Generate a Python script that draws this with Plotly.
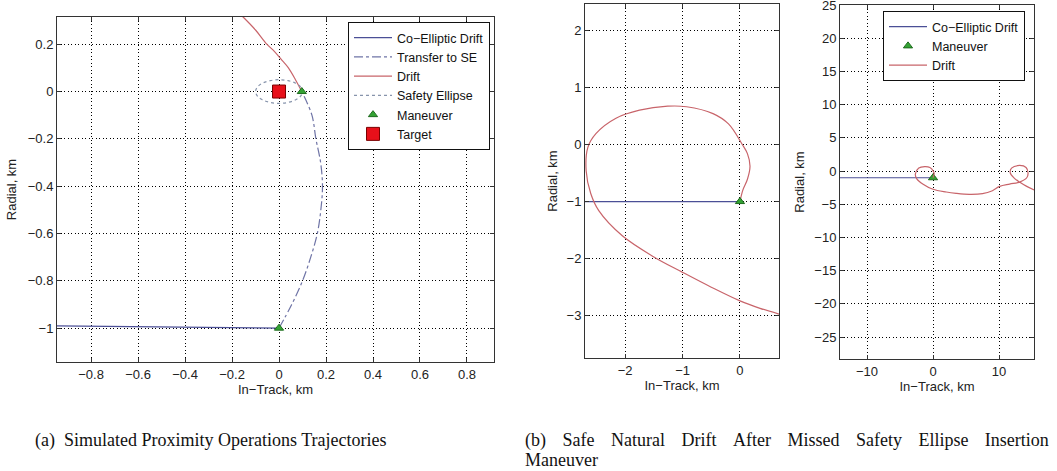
import plotly.graph_objects as go

W, H = 1057, 471

# ---------------- data: (a) proximity operations ----------------
a_coell_x = [-0.95, -0.7, -0.4, -0.1, 0.0]
a_coell_y = [-0.99, -0.992, -0.995, -0.999, -1.0]

a_transfer_x = [0.0, 0.054, 0.10, 0.135, 0.163, 0.178, 0.185, 0.177, 0.157, 0.14, 0.097]
a_transfer_y = [-1.0, -0.9, -0.8, -0.7, -0.6, -0.5, -0.4, -0.3, -0.2, -0.1, 0.0]

a_drift_x = [0.097, 0.07, 0.04, 0.011, -0.02, -0.052, -0.1, -0.153, -0.2]
a_drift_y = [0.0, 0.05, 0.1, 0.134, 0.17, 0.2, 0.26, 0.315, 0.36]

a_se_x = [0.1, 0.092, 0.071, 0.038, 0.0, -0.038, -0.071, -0.092, -0.1,
          -0.092, -0.071, -0.038, 0.0, 0.038, 0.071, 0.092, 0.1]
a_se_y = [0.0, 0.019, 0.035, 0.046, 0.05, 0.046, 0.035, 0.019, 0.0,
          -0.019, -0.035, -0.046, -0.05, -0.046, -0.035, -0.019, 0.0]

a_man_x = [0.0, 0.097]
a_man_y = [-1.0, 0.0]

a_tgt_x = [0.0]
a_tgt_y = [0.0]

# ---------------- data: (b) left, zoomed drift ----------------
b1_coell_x = [-2.8, 0.0]
b1_coell_y = [-1.0, -1.0]

b1_drift_x = [0.0, 0.05, 0.13, 0.175, 0.13, 0.04, -0.2, -0.47, -0.93, -1.26,
              -1.75, -2.16, -2.51, -2.65, -2.68, -2.6, -2.46, -2.05, -1.5,
              -1.0, -0.5, 0.0, 0.35, 0.75]
b1_drift_y = [-1.0, -0.8, -0.61, -0.38, -0.16, 0.0, 0.36, 0.54, 0.66, 0.67,
              0.6, 0.46, 0.19, -0.05, -0.46, -0.86, -1.16, -1.6, -1.97,
              -2.24, -2.5, -2.74, -2.87, -2.99]

b1_man_x = [0.0]
b1_man_y = [-1.0]

# ---------------- data: (b) right, wide drift ----------------
b2_coell_x = [-14.5, 0.0]
b2_coell_y = [-1.0, -1.0]

b2_drift_x = [0.0, 0.17, 0.04, -0.47, -1.26, -2.16, -2.68, -2.46, -1.5, 0.0,
              2.0, 3.5, 5.5, 7.5, 9.0, 10.1, 11.6, 13.1, 14.2, 14.4, 14.1,
              13.1, 11.9, 11.7, 12.3, 13.1, 14.2, 15.6]
b2_drift_y = [-1.0, -0.4, 0.0, 0.54, 0.67, 0.46, -0.46, -1.16, -1.97, -2.74,
              -3.15, -3.35, -3.5, -3.4, -2.95, -2.3, -1.95, -1.65, -1.0, -0.3,
              0.55, 0.85, 0.45, -0.26, -1.05, -1.65, -2.3, -2.95]

b2_man_x = [0.0]
b2_man_y = [-1.0]

# tick values
a_xticks = [-0.8, -0.6, -0.4, -0.2, 0, 0.2, 0.4, 0.6, 0.8]
a_yticks = [-1, -0.8, -0.6, -0.4, -0.2, 0, 0.2]
b1_xticks = [-2, -1, 0]
b1_yticks = [-3, -2, -1, 0, 1, 2]
b2_xticks = [-10, 0, 10]
b2_yticks = [-25, -20, -15, -10, -5, 0, 5, 10, 15, 20, 25]

NB = "\u00a0"
caption_a = "(a)" + NB * 2 + "Simulated Proximity Operations Trajectories"
_b_words = ["(b)", "Safe", "Natural", "Drift", "After", "Missed", "Safety", "Ellipse", "Insertion"]
caption_b1 = (" " + NB * 2 + "\u2006").join(_b_words)
caption_b2 = "Maneuver"

# ---------------- styles ----------------
C_COELL = "#4b4f96"
C_TRANS = "#6f74a6"
C_DRIFT = "#c8646a"
C_SE = "#8794ac"
C_MAN = "#33a333"
C_MAN_EDGE = "#1e6b1e"
C_TGT = "#e8101a"

fig = go.Figure()

def px_dom_x(a, b):
    return [a / W, b / W]

def px_dom_y(top, bot):
    return [1 - bot / H, 1 - top / H]

MAN_MARKER = dict(symbol="triangle-up", size=8, color=C_MAN, line=dict(color=C_MAN_EDGE, width=1))

# (a)
fig.add_trace(go.Scatter(x=a_coell_x, y=a_coell_y, mode="lines", name="Co\u2212Elliptic Drift",
                         line=dict(color=C_COELL, width=1.2), xaxis="x", yaxis="y", legend="legend"))
fig.add_trace(go.Scatter(x=a_transfer_x, y=a_transfer_y, mode="lines", name="Transfer to SE",
                         line=dict(color=C_TRANS, width=1.2, dash="dashdot", shape="spline"),
                         xaxis="x", yaxis="y", legend="legend"))
fig.add_trace(go.Scatter(x=a_drift_x, y=a_drift_y, mode="lines", name="Drift",
                         line=dict(color=C_DRIFT, width=1.2, shape="spline"), xaxis="x", yaxis="y", legend="legend"))
fig.add_trace(go.Scatter(x=a_se_x, y=a_se_y, mode="lines", name="Safety Ellipse",
                         line=dict(color=C_SE, width=1.2, dash="dot", shape="spline"), xaxis="x", yaxis="y", legend="legend"))
fig.add_trace(go.Scatter(x=a_man_x, y=a_man_y, mode="markers", name="Maneuver",
                         marker=MAN_MARKER, xaxis="x", yaxis="y", legend="legend"))
fig.add_trace(go.Scatter(x=a_tgt_x, y=a_tgt_y, mode="markers", name="Target",
                         marker=dict(symbol="square", size=13, color=C_TGT, line=dict(color="#7a0000", width=1)),
                         xaxis="x", yaxis="y", legend="legend"))

# (b) left
fig.add_trace(go.Scatter(x=b1_coell_x, y=b1_coell_y, mode="lines", showlegend=False,
                         line=dict(color=C_COELL, width=1.2), xaxis="x2", yaxis="y2"))
fig.add_trace(go.Scatter(x=b1_drift_x, y=b1_drift_y, mode="lines", showlegend=False,
                         line=dict(color=C_DRIFT, width=1.2, shape="spline"), xaxis="x2", yaxis="y2"))
fig.add_trace(go.Scatter(x=b1_man_x, y=b1_man_y, mode="markers", showlegend=False,
                         marker=MAN_MARKER, xaxis="x2", yaxis="y2"))

# (b) right
fig.add_trace(go.Scatter(x=b2_coell_x, y=b2_coell_y, mode="lines", name="Co\u2212Elliptic Drift",
                         line=dict(color=C_COELL, width=1.2), xaxis="x3", yaxis="y3", legend="legend2"))
fig.add_trace(go.Scatter(x=b2_man_x, y=b2_man_y, mode="markers", name="Maneuver",
                         marker=MAN_MARKER, xaxis="x3", yaxis="y3", legend="legend2"))
fig.add_trace(go.Scatter(x=b2_drift_x, y=b2_drift_y, mode="lines", name="Drift",
                         line=dict(color=C_DRIFT, width=1.2, shape="spline"), xaxis="x3", yaxis="y3", legend="legend2"))

FONT = dict(family="Liberation Sans, Arial, sans-serif", size=13, color="#222")
LFONT = dict(family="Liberation Sans, Arial, sans-serif", size=12.5, color="#111")
SERIF = dict(family="Liberation Serif, Times New Roman, serif", size=18, color="#111")

def axis(dom, rng, ticks, title, anchor, standoff):
    return dict(domain=dom, range=rng, tickvals=ticks, showgrid=True, gridcolor="#000",
                griddash="1.3px,2.2px", gridwidth=1.1, zeroline=False, showline=True, linecolor="#333",
                linewidth=1, mirror="allticks", ticks="inside", ticklen=4, tickcolor="#333",
                tickfont=FONT, anchor=anchor, ticklabeloverflow="allow", automargin=False,
                title=dict(text=title, font=FONT, standoff=standoff))

layout = dict(
    width=W, height=H, margin=dict(l=0, r=0, t=0, b=0, autoexpand=False),
    paper_bgcolor="white", plot_bgcolor="white", font=FONT,
    xaxis=axis(px_dom_x(57, 494), [-0.945, 0.915], a_xticks, "In\u2212Track, km", "y", 4),
    yaxis=axis(px_dom_y(17, 362), [-1.143, 0.315], a_yticks, "Radial, km", "x", 8),
    xaxis2=axis(px_dom_x(585, 779), [-2.70, 0.68], b1_xticks, "In\u2212Track, km", "y2", 4),
    yaxis2=axis(px_dom_y(4, 358), [-3.74, 2.46], b1_yticks, "Radial, km", "x2", 6),
    xaxis3=axis(px_dom_x(840, 1034), [-14.1, 15.3], b2_xticks, "In\u2212Track, km", "y3", 4),
    yaxis3=axis(px_dom_y(5, 359), [-28.3, 25.02], b2_yticks, "Radial, km", "x3", 6),
    legend=dict(x=348 / W, y=1 - 22 / H, xanchor="left", yanchor="top", bgcolor="white",
                bordercolor="#111", borderwidth=1, font=LFONT, itemwidth=38, tracegroupgap=0),
    legend2=dict(x=883 / W, y=1 - 11 / H, xanchor="left", yanchor="top", bgcolor="white",
                 bordercolor="#111", borderwidth=1, font=LFONT, itemwidth=38, tracegroupgap=0),
    showlegend=True,
    annotations=[
        dict(text=caption_a, x=33 / W, y=1 - 440 / H, xref="paper", yref="paper", xanchor="left",
             yanchor="middle", showarrow=False, align="left", font=SERIF),
        dict(text=caption_b1, x=523 / W, y=1 - 440 / H, xref="paper", yref="paper", xanchor="left",
             yanchor="middle", showarrow=False, align="left", font=SERIF),
        dict(text=caption_b2, x=523 / W, y=1 - 460 / H, xref="paper", yref="paper", xanchor="left",
             yanchor="middle", showarrow=False, align="left", font=SERIF),
    ],
)
fig.update_layout(**layout)
fig.write_html("out.html")
